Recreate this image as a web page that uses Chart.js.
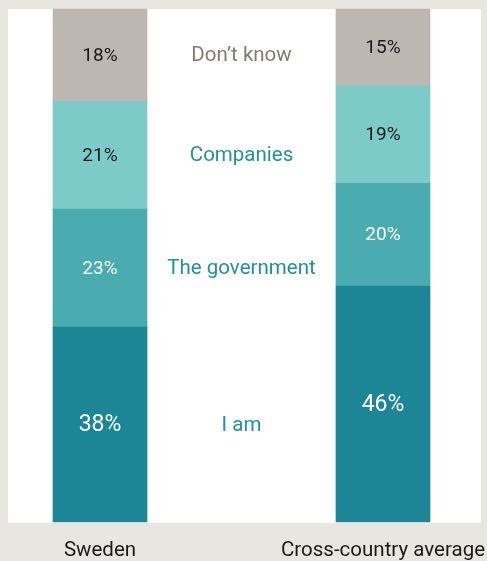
<!DOCTYPE html>
<html>
<head>
<meta charset="utf-8">
<script src="https://cdn.jsdelivr.net/npm/chart.js@4.4.1/dist/chart.umd.min.js"></script>
<style>
  html, body { margin: 0; padding: 0; background: #e8e6e1; }
  #wrap { width: 487px; height: 561px; position: relative; }
</style>
</head>
<body>
<div id="wrap"><canvas id="chart" width="487" height="561"></canvas></div>
<script>
// Categories and series (percent, bottom to top)
const categories = ['Sweden', 'Cross-country average'];
const seriesNames = ['I am', 'The government', 'Companies', 'Don\u2019t know'];
const iAm = [38, 46];
const government = [23, 20];
const companies = [21, 19];
const dontKnow = [18, 15];

const FONT = 'Roboto, "Liberation Sans", sans-serif';

// Fill colour, value text colour, value text size, series label colour
const styles = [
    { bg: '#1c8696', text: '#ffffff', size: 23, label: '#22909e' },
    { bg: '#4aacb0', text: '#ffffff', size: 19, label: '#22909e' },
    { bg: '#7ccbc9', text: '#1a1a1a', size: 19, label: '#22909e' },
    { bg: '#bcb7b1', text: '#1a1a1a', size: 19, label: '#857a6e' }
];

const values = [iAm, government, companies, dontKnow];

// White panel behind the bars, plus category names under it
const panelPlugin = {
    id: 'panel',
    beforeDraw(chart) {
        const { ctx, chartArea } = chart;
        ctx.save();
        ctx.fillStyle = '#ffffff';
        ctx.fillRect(chartArea.left - 92, chartArea.top, (chartArea.right - chartArea.left) + 190, chartArea.bottom - chartArea.top + 1);
        ctx.restore();
    },
    afterDraw(chart) {
        const { ctx, chartArea } = chart;
        const xScale = chart.scales.x;
        ctx.save();
        ctx.textAlign = 'center';
        ctx.textBaseline = 'middle';
        ctx.fillStyle = '#1a1a1a';
        ctx.font = '20.5px ' + FONT;
        chart.data.labels.forEach((lab, i) => {
            ctx.fillText(lab, xScale.getPixelForTick(i), chartArea.bottom + 29);
        });
        ctx.restore();
    }
};

// Percent labels inside segments and series names between the bars
const labelPlugin = {
    id: 'segLabels',
    afterDatasetsDraw(chart) {
        const { ctx } = chart;
        ctx.save();
        ctx.textAlign = 'center';
        ctx.textBaseline = 'middle';
        chart.data.datasets.forEach((ds, i) => {
            const meta = chart.getDatasetMeta(i);
            const st = styles[i];
            meta.data.forEach((bar, j) => {
                const mid = (bar.y + bar.base) / 2 + 1;
                ctx.fillStyle = st.text;
                ctx.font = st.size + 'px ' + FONT;
                ctx.fillText(ds.data[j] + '%', bar.x, mid);
            });
            // Series name level with the Sweden segment, centred between bars
            const b0 = meta.data[0], b1 = meta.data[1];
            ctx.fillStyle = st.label;
            ctx.font = '20.5px ' + FONT;
            ctx.fillText(ds.label, (b0.x + b1.x) / 2, (b0.y + b0.base) / 2 + 1);
        });
        ctx.restore();
    }
};

new Chart(document.getElementById('chart'), {
    type: 'bar',
    data: {
        labels: categories,
        datasets: seriesNames.map((name, i) => ({
            label: name,
            data: values[i],
            backgroundColor: styles[i].bg,
            borderWidth: 0,
            barThickness: 94
        }))
    },
    plugins: [panelPlugin, labelPlugin],
    options: {
        responsive: false,
        animation: false,
        layout: {
            padding: { left: 100, right: 104, top: 9, bottom: 39 }
        },
        scales: {
            x: {
                stacked: true,
                offset: false,
                display: false
            },
            y: {
                stacked: true,
                display: false,
                min: 0,
                max: 100
            }
        },
        datasets: { bar: { clip: false } },
        plugins: {
            legend: { display: false },
            tooltip: { enabled: false }
        }
    }
});
</script>
</body>
</html>
